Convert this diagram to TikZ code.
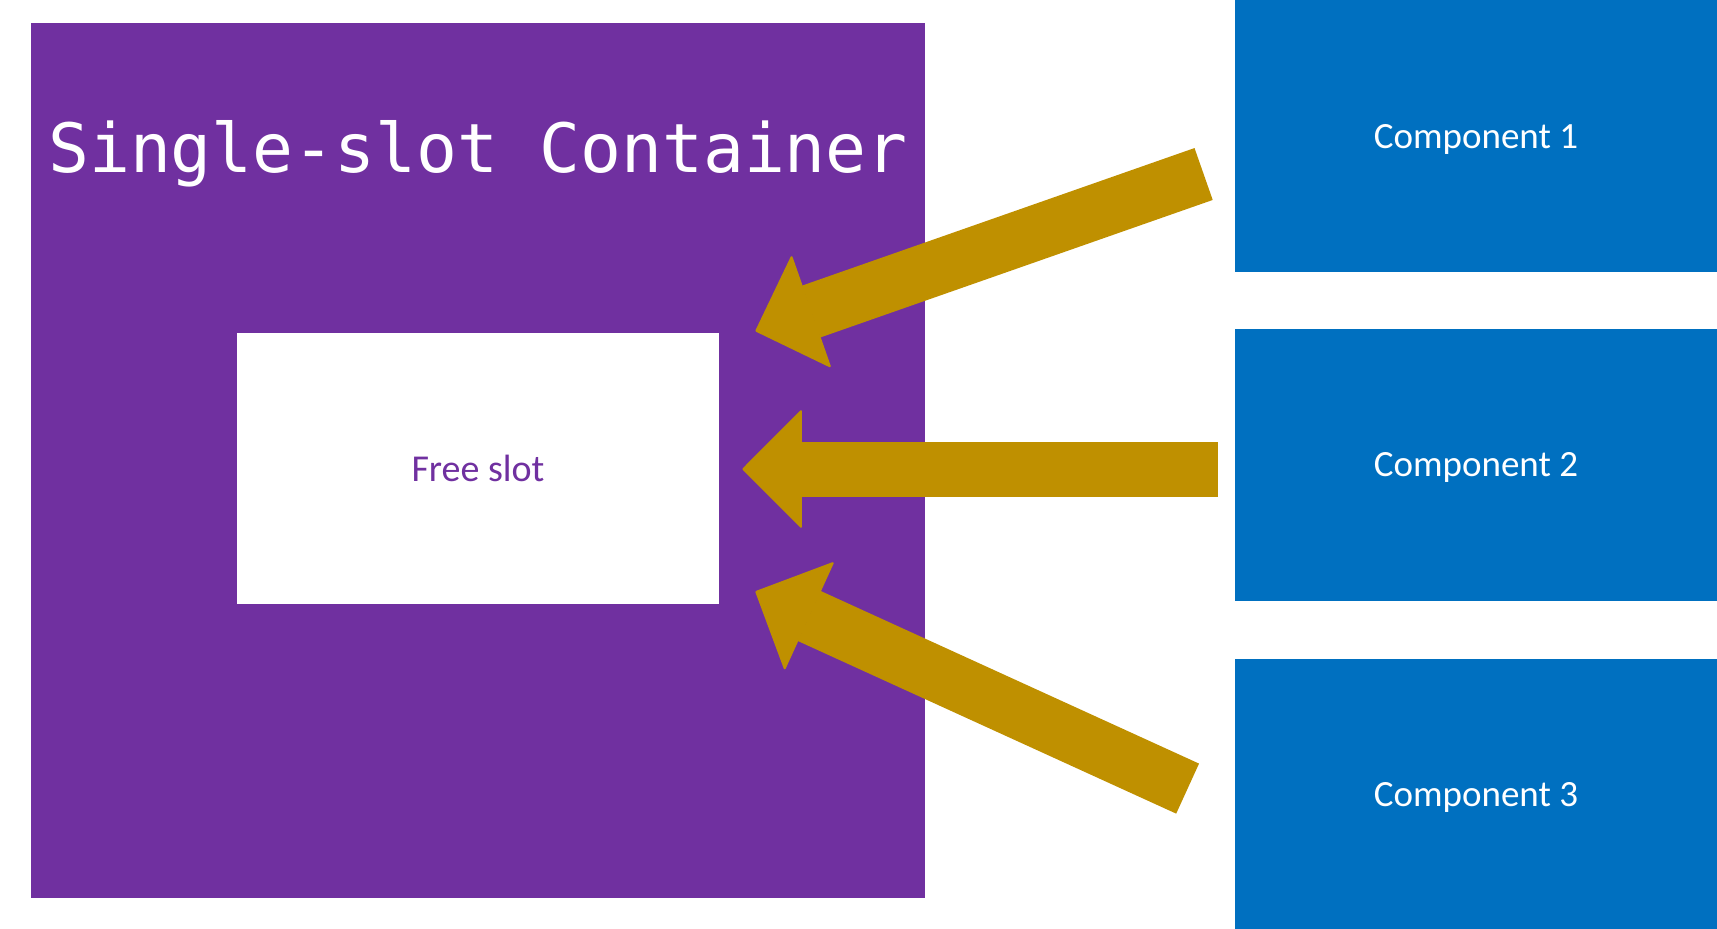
\documentclass[tikz,border=0pt]{standalone}
\usepackage{fontspec}
\setmainfont{Carlito}
\newfontfamily\slotmono{DejaVu Sans Mono}
\usepackage{tikz}
\usetikzlibrary{arrows.meta,positioning,calc}
\definecolor{slotpurple}{HTML}{7030A0}
\definecolor{compblue}{HTML}{0070C0}
\definecolor{slotgold}{HTML}{BF9000}
\tikzstyle{container} = [fill=slotpurple, inner sep=0pt, minimum width=447pt, minimum height=437.5pt]
\tikzstyle{freeslot}  = [fill=white, text=slotpurple, inner sep=0pt, minimum width=241pt, minimum height=135.5pt, font=\fontsize{19}{22}\selectfont]
\tikzstyle{compbox}   = [fill=compblue, text=white, inner sep=0pt, text depth=0pt, minimum width=241pt, minimum height=136pt, font=\fontsize{18.5}{22}\selectfont]
\tikzstyle{slotarrow} = [draw=slotgold, line width=27.5pt, -{Triangle[length=30pt,width=60pt,line width=1pt,round]}]

\begin{document}
\begin{tikzpicture}[x=0.5pt,y=-0.5pt]
        \useasboundingbox (0,0) rectangle (1717,928);
        \node[container] (cont) at (478,460.5) {};
        \node[anchor=base, text=white, font=\slotmono\fontsize{34}{40}\selectfont] (title) at (478,172) {Single-slot Container};
        \node[freeslot] (free) at (478,468.5) {Free slot};

        \node[compbox] (comp1) at (1476,136) {Component 1};
        \node[compbox, below=28pt of comp1] (comp2) {Component 2};
        \node[compbox, below=28.5pt of comp2] (comp3) {Component 3};

        % arrow ends, just off the boxes
        \coordinate (tail1) at ($(comp1.west)+(-31,38)$);
        \coordinate (tip1) at ($(free.north east)+(36,-1.5)$);
        \coordinate (tip2) at ($(free.east)+(23,0.5)$);
        \coordinate (tail2) at ($(tip2 -| comp2.west)+(-17,0)$);
        \coordinate (tail3) at ($(comp3.west)+(-47,-6)$);
        \coordinate (tip3) at ($(free.south east)+(36,-13)$);

        \draw[slotarrow] (tail1) -- (tip1);
        \draw[slotarrow] (tail2) -- (tip2);
        \draw[slotarrow] (tail3) -- (tip3);
    \end{tikzpicture}
\end{document}
